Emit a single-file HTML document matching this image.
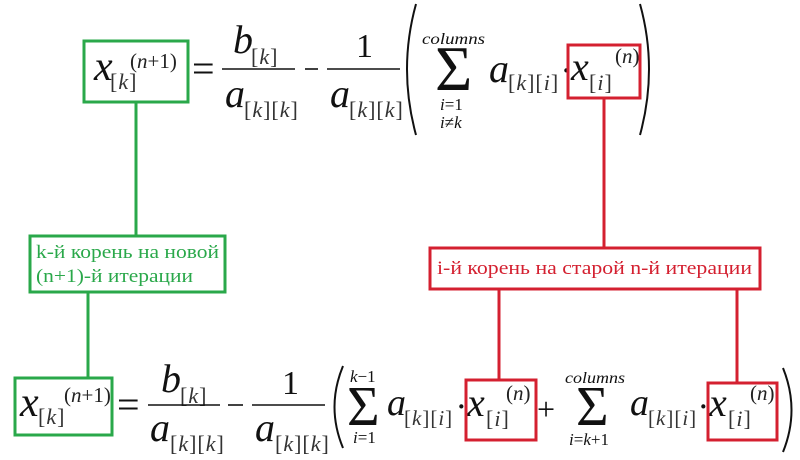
<!DOCTYPE html>
<html><head><meta charset="utf-8"><style>
html,body{margin:0;padding:0;background:#fff;}
svg{display:block;}
text{font-family:"Liberation Serif",serif;fill:#111;}
.i{font-style:italic;}
.s{fill:#333;letter-spacing:1px;}
.p{fill:#222;}
.g{fill:#2aa84a;font-style:normal;letter-spacing:0;}
.r{fill:#d42030;font-style:normal;letter-spacing:0;}
.sig{font-weight:100;}
</style></head><body>
<svg width="800" height="460" viewBox="0 0 800 460" xmlns="http://www.w3.org/2000/svg">
<!-- TOP FORMULA -->
<text x="94" y="80" font-size="42" class="i">x</text>
<text x="110" y="89" font-size="22" class="s">[<tspan class="i">k</tspan>]</text>
<text x="130" y="68" font-size="21" class="p">(<tspan class="i">n</tspan>+1)</text>
<text x="192" y="82" font-size="40">=</text>
<text x="233" y="53" font-size="40" class="i">b</text>
<text x="251" y="64" font-size="22" class="s">[<tspan class="i">k</tspan>]</text>
<line x1="222" y1="69" x2="295" y2="69" stroke="#111" stroke-width="1.6"/>
<text x="225" y="107" font-size="40" class="i">a</text>
<text x="244" y="117" font-size="22" class="s">[<tspan class="i">k</tspan>][<tspan class="i">k</tspan>]</text>
<line x1="305" y1="69" x2="318" y2="69" stroke="#111" stroke-width="1.6"/>
<text x="356" y="57" font-size="34">1</text>
<line x1="327" y1="69" x2="400" y2="69" stroke="#111" stroke-width="1.6"/>
<text x="330" y="107" font-size="40" class="i">a</text>
<text x="349" y="117" font-size="22" class="s">[<tspan class="i">k</tspan>][<tspan class="i">k</tspan>]</text>
<path d="M416 4 Q398 69 416 135" fill="none" stroke="#111" stroke-width="2"/>
<path d="M640 4 Q658 69 640 135" fill="none" stroke="#111" stroke-width="2"/>
<text x="422" y="44" font-size="16" class="i" textLength="63" lengthAdjust="spacingAndGlyphs">columns</text>
<text x="435" y="90" font-size="64" class="sig">Σ</text>
<text x="440" y="110" font-size="17"><tspan class="i">i</tspan>=1</text>
<text x="440" y="128" font-size="17"><tspan class="i">i</tspan>≠<tspan class="i">k</tspan></text>
<text x="489" y="82" font-size="40" class="i">a</text>
<text x="508" y="90" font-size="22" class="s">[<tspan class="i">k</tspan>][<tspan class="i">i</tspan>]</text>
<text x="562" y="79" font-size="26" font-weight="bold">·</text>
<text x="571" y="80" font-size="40" class="i">x</text>
<text x="589" y="90" font-size="22" class="s">[<tspan class="i">i</tspan>]</text>
<text x="615" y="63" font-size="21" class="p">(<tspan class="i">n</tspan>)</text>

<!-- BOTTOM FORMULA -->
<text x="20" y="416" font-size="42" class="i">x</text>
<text x="38" y="424" font-size="22" class="s">[<tspan class="i">k</tspan>]</text>
<text x="64" y="402" font-size="21" class="p">(<tspan class="i">n</tspan>+1)</text>
<text x="117" y="418" font-size="40">=</text>
<text x="161" y="392" font-size="40" class="i">b</text>
<text x="180" y="403" font-size="22" class="s">[<tspan class="i">k</tspan>]</text>
<line x1="148" y1="405" x2="220" y2="405" stroke="#111" stroke-width="1.6"/>
<text x="150" y="441" font-size="40" class="i">a</text>
<text x="170" y="451" font-size="22" class="s">[<tspan class="i">k</tspan>][<tspan class="i">k</tspan>]</text>
<line x1="228" y1="405" x2="243" y2="405" stroke="#111" stroke-width="1.6"/>
<text x="282" y="394" font-size="34">1</text>
<line x1="252" y1="405" x2="325" y2="405" stroke="#111" stroke-width="1.6"/>
<text x="255" y="441" font-size="40" class="i">a</text>
<text x="275" y="451" font-size="22" class="s">[<tspan class="i">k</tspan>][<tspan class="i">k</tspan>]</text>
<path d="M343 366 Q326 407 343 448" fill="none" stroke="#111" stroke-width="2"/>
<path d="M783 368 Q800 410 783 452" fill="none" stroke="#111" stroke-width="2"/>
<text x="350" y="382" font-size="17"><tspan class="i">k</tspan>−1</text>
<text x="347" y="425" font-size="56" class="sig">Σ</text>
<text x="353" y="443" font-size="17"><tspan class="i">i</tspan>=1</text>
<text x="387" y="415" font-size="38" class="i">a</text>
<text x="404" y="425" font-size="21" class="s">[<tspan class="i">k</tspan>][<tspan class="i">i</tspan>]</text>
<text x="457" y="415" font-size="26" font-weight="bold">·</text>
<text x="467" y="416" font-size="40" class="i">x</text>
<text x="486" y="426" font-size="22" class="s">[<tspan class="i">i</tspan>]</text>
<text x="506" y="400" font-size="21" class="p">(<tspan class="i">n</tspan>)</text>
<text x="537" y="420" font-size="32">+</text>
<text x="565" y="383" font-size="16" class="i" textLength="60" lengthAdjust="spacingAndGlyphs">columns</text>
<text x="576" y="425" font-size="56" class="sig">Σ</text>
<text x="569" y="445" font-size="17"><tspan class="i">i</tspan>=<tspan class="i">k</tspan>+1</text>
<text x="630" y="415" font-size="38" class="i">a</text>
<text x="648" y="425" font-size="21" class="s">[<tspan class="i">k</tspan>][<tspan class="i">i</tspan>]</text>
<text x="699" y="415" font-size="26" font-weight="bold">·</text>
<text x="709" y="416" font-size="40" class="i">x</text>
<text x="728" y="426" font-size="22" class="s">[<tspan class="i">i</tspan>]</text>
<text x="750" y="400" font-size="21" class="p">(<tspan class="i">n</tspan>)</text>

<!-- GREEN annotations -->
<g fill="none" stroke="#2aa84a" stroke-width="3">
<rect x="84" y="41" width="104" height="61"/>
<line x1="136" y1="102" x2="136" y2="236"/>
<rect x="30" y="236" width="195" height="56"/>
<line x1="88" y1="292" x2="88" y2="378"/>
<rect x="15" y="378" width="97" height="57"/>
</g>
<text x="36" y="258" font-size="19" class="g" textLength="183" lengthAdjust="spacingAndGlyphs">k-й корень на новой</text>
<text x="36" y="282" font-size="19" class="g" textLength="157" lengthAdjust="spacingAndGlyphs">(n+1)-й итерации</text>

<!-- RED annotations -->
<g fill="none" stroke="#d42030" stroke-width="3">
<rect x="568" y="45" width="72" height="53"/>
<line x1="604" y1="98" x2="604" y2="248"/>
<rect x="430" y="248" width="330" height="41"/>
<line x1="499" y1="289" x2="499" y2="380"/>
<line x1="737" y1="289" x2="737" y2="383"/>
<rect x="466" y="380" width="70" height="60"/>
<rect x="708" y="383" width="69" height="57"/>
</g>
<text x="437" y="274" font-size="19" class="r" textLength="315" lengthAdjust="spacingAndGlyphs">i-й корень на старой n-й итерации</text>
</svg>
</body></html>
